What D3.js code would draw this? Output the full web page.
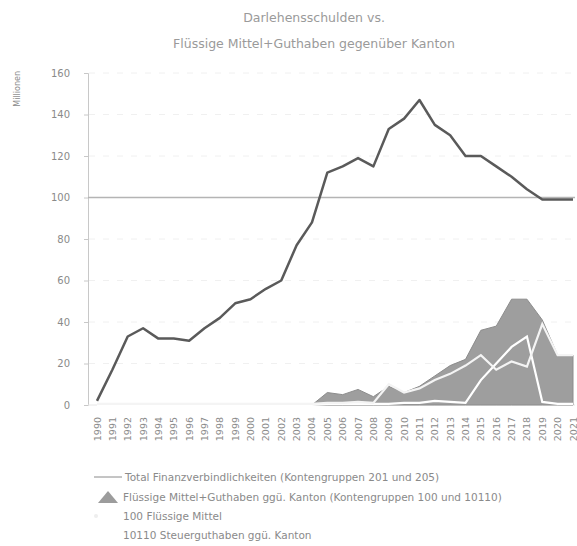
<!DOCTYPE html>
<html lang="de">
<head>
  <meta charset="UTF-8">
  <title>Darlehensschulden vs. Flüssige Mittel</title>
  <style>
    body { margin: 0; background: #ffffff; font-family: 'DejaVu Sans', sans-serif; }
    svg text { fill: #8a8a8a; }
  </style>
  <script src="https://d3js.org/d3.v7.min.js"></script>
</head>
<body>
  <div id="chart"></div>
  <script>
    // Jahre
    const years = d3.range(1990, 2022).map(String);

    // Total Finanzverbindlichkeiten (Mio.)
    const totalDebt = [2, 17, 33, 37, 32, 32, 31, 37, 42, 49, 51, 56, 60, 77, 88, 112,
                       115, 119, 115, 133, 138, 147, 135, 130, 120, 120, 115, 110, 104, 99, 99, 99];

    // Flüssige Mittel + Guthaben ggü. Kanton (Fläche)
    const liquidTotal = [0, 0, 0, 0, 0, 0, 0, 0, 0, 0, 0, 0, 0, 0, 0, 6,
                         5, 7.5, 4, 9, 6, 9, 14, 19, 22, 36, 38, 51, 51, 41, 24, 24];

    // 100 Flüssige Mittel
    const cash100 = [0.5, 0.5, 0.5, 0.5, 0.5, 0.5, 0.5, 0.5, 0.5, 0.5, 0.5, 0.5, 0.5, 0.5, 0.5, 1,
                     1, 1.5, 1, 10, 6, 8, 12, 15, 19, 24, 17, 21, 18.5, 39, 24, 24];

    // 10110 Steuerguthaben ggü. Kanton
    const tax10110 = [0, 0, 0, 0, 0, 0, 0, 0, 0, 0, 0, 0, 0, 0, 0, 0.5,
                      0.5, 0.5, 0.5, 0.5, 1, 1, 2, 1.5, 1, 12, 20, 28, 33, 1.5, 0.5, 0.5];

    const refLine = 100;
    const yTicks = [0, 20, 40, 60, 80, 100, 120, 140, 160];

    const legendItems = [
      'Total Finanzverbindlichkeiten (Kontengruppen 201 und 205)',
      'Flüssige Mittel+Guthaben ggü. Kanton (Kontengruppen 100 und 10110)',
      '100 Flüssige Mittel',
      '10110 Steuerguthaben ggü. Kanton'
    ];

    const W = 577, H = 546;
    const svg = d3.select('#chart').append('svg')
      .attr('width', W).attr('height', H);

    const x = d3.scalePoint().domain(years).range([97, 573]);
    const y = d3.scaleLinear().domain([0, 160]).range([405, 73]);

    // Titel
    svg.append('text').attr('x', 314).attr('y', 22).attr('text-anchor', 'middle')
      .style('font-size', '12.5px').style('fill', '#9a9a9a').text('Darlehensschulden vs.');
    svg.append('text').attr('x', 314).attr('y', 48).attr('text-anchor', 'middle')
      .style('font-size', '12.5px').style('fill', '#9a9a9a').text('Flüssige Mittel+Guthaben gegenüber Kanton');

    // y-Achsentitel
    svg.append('text')
      .attr('transform', 'translate(20,71) rotate(-90)')
      .attr('text-anchor', 'end')
      .style('font-size', '8px')
      .text('Millionen');

    // Gitter
    svg.append('g').selectAll('line').data(yTicks.filter(d => d > 0)).join('line')
      .attr('x1', 89).attr('x2', 575)
      .attr('y1', d => y(d)).attr('y2', d => y(d))
      .attr('stroke', '#f0f0f0').attr('stroke-dasharray', '6,8');

    // y-Achse
    const yAxis = svg.append('g').attr('transform', 'translate(88,0)')
      .call(d3.axisLeft(y).tickValues(yTicks).tickSize(4).tickPadding(14));
    yAxis.select('.domain').attr('stroke', '#c8c8c8');
    yAxis.selectAll('.tick line').attr('stroke', '#c8c8c8');
    yAxis.selectAll('.tick text').style('font-size', '10px').style('fill', '#8a8a8a')
      .style('font-family', "'DejaVu Sans', sans-serif");

    // x-Achse
    svg.append('line').attr('x1', 88).attr('x2', 575).attr('y1', y(0)).attr('y2', y(0))
      .attr('stroke', '#e6e6e6');
    svg.append('g').selectAll('text').data(years).join('text')
      .attr('transform', d => `translate(${x(d) + 3.5},417) rotate(-90)`)
      .attr('text-anchor', 'end')
      .style('font-size', '9.5px')
      .text(d => d);

    // Fläche Flüssige Mittel + Guthaben
    const area = d3.area()
      .x((d, i) => x(years[i]))
      .y0(y(0))
      .y1(d => y(d));
    svg.append('path').datum(liquidTotal)
      .attr('d', area)
      .attr('fill', '#9e9e9e')
      .attr('stroke', '#8c8c8c').attr('stroke-width', 1);

    const line = d3.line().x((d, i) => x(years[i])).y(d => y(d));

    svg.append('path').datum(tax10110).attr('d', line)
      .attr('fill', 'none').attr('stroke', '#ffffff').attr('stroke-width', 2.2);
    svg.append('path').datum(cash100).attr('d', line)
      .attr('fill', 'none').attr('stroke', '#f4f4f4').attr('stroke-width', 2.2);

    // Referenzlinie 100
    svg.append('line').attr('x1', 88).attr('x2', 575)
      .attr('y1', y(refLine)).attr('y2', y(refLine))
      .attr('stroke', '#b4b4b4').attr('stroke-width', 1.5);

    // Total Finanzverbindlichkeiten
    svg.append('path').datum(totalDebt).attr('d', line)
      .attr('fill', 'none').attr('stroke', '#5a5a5a').attr('stroke-width', 2.5)
      .attr('stroke-linejoin', 'round');

    // Legende
    const leg = svg.append('g');
    const rowY = [477, 497, 516, 535];
    leg.append('line').attr('x1', 94).attr('x2', 122).attr('y1', rowY[0]).attr('y2', rowY[0])
      .attr('stroke', '#8a8a8a').attr('stroke-width', 1);
    leg.append('path')
      .attr('d', `M98,${rowY[1] + 6} L108,${rowY[1] - 6} L118,${rowY[1] + 6} Z`)
      .attr('fill', '#9c9c9c');
    leg.append('circle').attr('cx', 96).attr('cy', rowY[2]).attr('r', 2).attr('fill', '#eeeeee');
    leg.selectAll('text.lg').data(legendItems).join('text')
      .attr('class', 'lg')
      .attr('x', (d, i) => i === 0 ? 125 : 123)
      .attr('y', (d, i) => rowY[i] + 4)
      .style('font-size', '10.5px')
      .text(d => d);
  </script>
</body>
</html>
